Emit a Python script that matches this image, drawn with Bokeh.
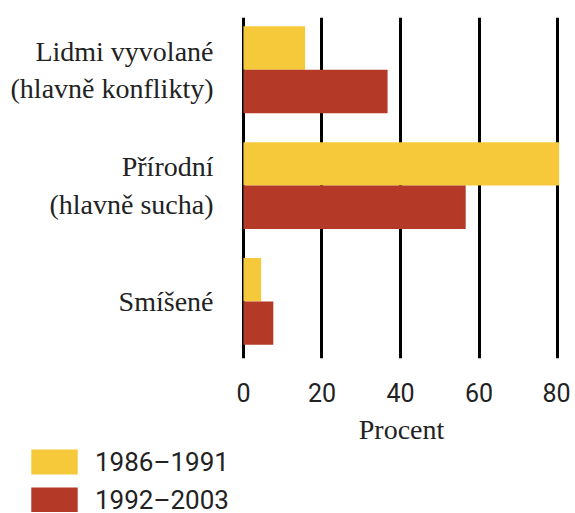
from bokeh.plotting import figure
from bokeh.models import ColumnDataSource, Range1d, FixedTicker, Legend, LegendItem
from bokeh.layouts import column
from bokeh.embed import file_html
from bokeh.resources import INLINE

categories = ["Lidmi vyvolané\n(hlavně konflikty)", "Přírodní\n(hlavně sucha)", "Smíšené"]
series_names = ["1986–1991", "1992–2003"]
values_1986_1991 = [15.7, 80.4, 4.5]
values_1992_2003 = [36.7, 56.6, 7.6]
x_ticks = [0, 20, 40, 60, 80]

colors = ["#F5C93A", "#B43A27"]

n = len(categories)
pos = [n - 1 - i for i in range(n)]  # top-to-bottom order
bar_h = 0.375

src = ColumnDataSource(dict(
    pos=pos,
    y1=[p_ + bar_h / 2 for p_ in pos],
    y2=[p_ - bar_h / 2 for p_ in pos],
    v1=values_1986_1991,
    v2=values_1992_2003,
))

W = 570
p = figure(width=W, height=447, output_backend="svg", toolbar_location=None,
           x_range=Range1d(-0.5, 81), y_range=Range1d(-0.493, 2.451),
           min_border_left=241, min_border_right=9, min_border_top=17, min_border_bottom=85)
p.frame_align = False
p.outline_line_color = None
p.background_fill_color = "white"
p.border_fill_color = "white"

r1 = p.hbar(y="y1", right="v1", left=0, height=bar_h, source=src, color=colors[0], line_color=None)
r2 = p.hbar(y="y2", right="v2", left=0, height=bar_h, source=src, color=colors[1], line_color=None)

# x axis
p.xaxis.ticker = FixedTicker(ticks=x_ticks)
p.xgrid.ticker = FixedTicker(ticks=x_ticks)
p.xgrid.grid_line_color = "black"
p.xgrid.grid_line_width = 3
p.ygrid.grid_line_color = None
p.xaxis.axis_line_color = None
p.xaxis.major_tick_line_color = None
p.xaxis.minor_tick_line_color = None
p.xaxis.major_tick_out = 0
p.xaxis.major_tick_in = 0
p.xaxis.major_label_text_font = "Roboto"
p.xaxis.major_label_text_font_size = "25px"
p.xaxis.major_label_text_color = "#222222"
p.xaxis.major_label_standoff = 24
p.xaxis.axis_label = "Procent"
p.xaxis.axis_label_text_font = "Liberation Serif"
p.xaxis.axis_label_text_font_size = "28px"
p.xaxis.axis_label_text_font_style = "normal"
p.xaxis.axis_label_text_color = "#222222"
p.xaxis.axis_label_standoff = 9

# y axis
p.yaxis.ticker = FixedTicker(ticks=pos)
p.yaxis.major_label_overrides = {pp: c for pp, c in zip(pos, categories)}
p.yaxis.axis_line_color = None
p.yaxis.major_tick_line_color = None
p.yaxis.minor_tick_line_color = None
p.yaxis.major_tick_out = 0
p.yaxis.major_tick_in = 0
p.yaxis.major_label_standoff = 28
p.yaxis.major_label_text_font = "Liberation Serif"
p.yaxis.major_label_text_font_size = "28px"
p.yaxis.major_label_text_color = "#222222"
p.yaxis.major_label_text_align = "right"

# legend panel below the chart (bars drawn out of view; only the legend shows)
LH = 65
lg = figure(width=W, height=LH, output_backend="svg", toolbar_location=None,
            x_range=Range1d(0, 1), y_range=Range1d(100, 101),
            x_axis_location=None, y_axis_location=None,
            min_border_left=0, min_border_right=0, min_border_top=0, min_border_bottom=0)
lg.frame_align = False
lg.outline_line_color = None
lg.xgrid.visible = False
lg.ygrid.visible = False
k1 = lg.hbar(y="y1", right="v1", left=0, height=bar_h, source=src, color=colors[0], line_color=None)
k2 = lg.hbar(y="y2", right="v2", left=0, height=bar_h, source=src, color=colors[1], line_color=None)

common = dict(orientation="vertical", glyph_width=58, glyph_height=31, label_height=25,
              spacing=0, label_standoff=12, padding=0, margin=0, border_line_color=None,
              background_fill_alpha=0, label_text_font="Roboto", label_text_font_size="26px",
              label_text_color="#222222")
leg1 = Legend(items=[LegendItem(label=series_names[0], renderers=[k1])], location=(25, 35), **common)
leg2 = Legend(items=[LegendItem(label=series_names[1], renderers=[k2])], location=(25, -3), **common)
lg.add_layout(leg1, "center")
lg.add_layout(leg2, "center")

open("out.html", "w").write(file_html(column(p, lg), INLINE))
